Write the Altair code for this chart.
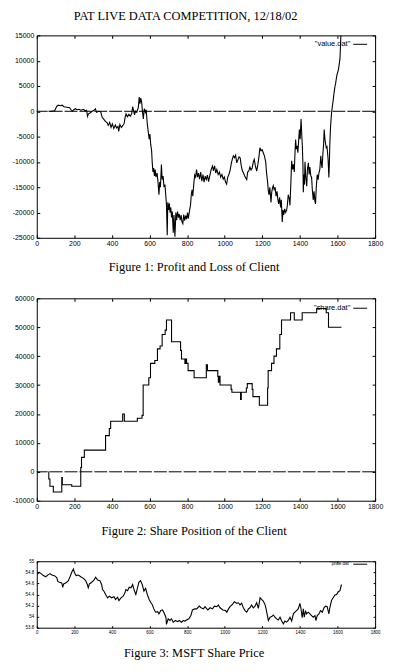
import altair as alt
import pandas as pd

# ---------------- data ----------------
pnl_x = [62, 80, 95, 100, 107, 115, 125, 135, 145, 160, 175, 180, 190, 197, 205, 215, 225, 235, 248, 258,
         265, 270, 275, 285, 295, 305, 312, 318, 330, 340, 348, 355, 365, 375, 380, 388, 395, 402, 410, 418,
         425, 432, 436, 442, 450, 458, 465, 470, 475, 482, 490, 497, 505, 510, 515, 520, 525, 532, 540, 545,
         549, 553, 558, 562, 567, 572, 578, 582, 588, 593, 598, 602, 606, 611, 614, 618, 622, 626, 630, 634,
         640, 645, 650, 654, 658, 663, 667, 672, 677, 682, 687, 690, 694, 697, 701, 705, 709, 713, 717, 721,
         726, 730, 735, 740, 744, 749, 754, 758, 763, 768, 772, 777, 782, 787, 792, 797, 802, 806, 812, 818,
         822, 826, 830, 835, 840, 845, 850, 855, 860, 866, 872, 878, 884, 890, 896, 902, 908, 914, 920, 928,
         935, 940, 946, 952, 958, 965, 972, 978, 985, 992, 998, 1004, 1010, 1016, 1022, 1028, 1034, 1040, 1046, 1052,
         1058, 1064, 1070, 1076, 1082, 1088, 1094, 1100, 1106, 1112, 1117, 1122, 1128, 1134, 1140, 1146, 1152, 1157, 1163, 1170,
         1176, 1182, 1187, 1193, 1199, 1205, 1211, 1218, 1222, 1228, 1232, 1236, 1240, 1246, 1250, 1254, 1258, 1263, 1268, 1273,
         1278, 1283, 1287, 1292, 1297, 1301, 1306, 1310, 1314, 1319, 1324, 1329, 1333, 1338, 1343, 1347, 1352, 1356, 1361, 1365,
         1370, 1374, 1377, 1381, 1385, 1389, 1393, 1397, 1401, 1406, 1410, 1413, 1416, 1418, 1421, 1424, 1427, 1431, 1436, 1440,
         1445, 1449, 1453, 1458, 1462, 1466, 1471, 1475, 1480, 1483, 1487, 1492, 1497, 1501, 1506, 1511, 1515, 1518, 1522, 1526,
         1529, 1533, 1536, 1540, 1544, 1547, 1550, 1554, 1557, 1559, 1563, 1568, 1572, 1577, 1581, 1586, 1590, 1595, 1599, 1604,
         1608, 1613, 1616, 1618]
pnl_y = [0, 0, 100, 500, 1000, 1200, 1100, 1200, 900, 800, 700, 400, 0, 300, 500, 300, 400, 200, 400, 100,
         200, -1000, -500, -300, 0, 200, 500, -200, 0, -100, -1200, -1500, -2000, -2300, -2800, -2200, -3200, -2500, -3400, -2700,
         -3300, -3000, -4000, -2600, -3200, -2800, -2400, -1200, -500, -1100, -600, -1000, -500, 900, 200, -700, 0, -200, 700, 2800,
         1500, 2600, 1800, 0, -1500, 500, -200, 300, -2500, -4000, -5500, -4500, -6500, -7800, -10000, -12000, -11200, -12800, -11500, -13000,
         -12200, -14000, -16500, -14000, -15000, -10500, -13500, -12800, -15000, -14500, -17000, -18500, -24500, -18000, -19500, -18200, -20000, -19000, -21000, -19800,
         -24000, -20500, -24800, -20000, -21500, -19800, -21000, -20300, -21500, -20500, -21800, -22200, -20400, -21600, -20600, -21300, -20000, -21200, -19800, -18500,
         -16500, -15500, -16800, -14500, -12600, -13000, -11500, -13000, -12200, -13400, -12000, -13800, -12500, -14000, -12800, -13500, -12600, -13900, -12800, -11500,
         -10800, -11800, -10800, -12200, -11500, -12500, -12000, -13000, -12500, -13400, -13000, -14000, -14400, -13000, -12500, -11800, -10500, -9500, -8800, -9200,
         -8700, -10200, -9600, -9000, -9200, -10800, -11800, -12200, -12800, -13200, -13500, -12000, -11800, -11000, -11600, -11200, -10000, -9500, -10800, -11800,
         -10600, -9000, -7200, -7800, -7600, -8200, -8800, -10000, -12000, -14000, -15800, -16500, -15000, -18000, -16000, -15200, -14700, -15500, -15000, -16800,
         -15800, -17500, -18300, -17000, -19000, -17500, -21900, -19500, -20500, -19300, -20000, -19600, -18600, -16500, -17200, -18600, -14000, -9800, -11500, -10500,
         -12000, -8000, -5600, -7500, -6800, -8200, -6000, -3600, -5500, -1550, -4800, -7000, -10500, -16000, -12500, -14500, -10000, -13000, -14800, -11500,
         -10200, -12500, -11000, -12800, -13000, -15500, -17500, -15800, -17800, -18300, -15000, -12500, -13500, -12200, -11500, -8800, -10500, -11200, -8500, -6500,
         -3600, -5500, -6300, -7200, -7000, -8200, -9500, -13100, -10000, -6500, -3000, -400, 800, 2200, 3500, 4800, 5500, 6800, 7500, 8100,
         9000, 10400, 13000, 15500]

pos_x = [62, 64, 70, 88, 133, 136, 186, 234, 238, 253, 366, 386, 393, 457, 466, 535, 560, 566, 596, 605,
         628, 642, 656, 667, 683, 690, 717, 765, 770, 788, 793, 797, 805, 837, 902, 908, 963, 966, 970, 975,
         1034, 1038, 1084, 1088, 1115, 1120, 1146, 1150, 1184, 1228, 1231, 1249, 1262, 1275, 1293, 1302, 1350, 1370, 1412, 1489,
         1540, 1552, 1621]
pos_y = [0, -2500, -5000, -7000, -2000, -4500, -5000, 1500, 5000, 7500, 12500, 15000, 17500, 20000, 17500, 18500, 19500, 30000, 32500, 37500,
         38500, 42500, 43500, 47500, 49000, 52500, 45000, 42000, 39000, 37500, 39000, 37500, 35000, 32500, 37000, 35000, 33000, 31000, 33000, 30000,
         28500, 27500, 25000, 27500, 29000, 30500, 28500, 26000, 23000, 29000, 35000, 37500, 40000, 42500, 47500, 52500, 55000, 52500, 55000, 56500,
         55000, 50000, 50000]

price_x = [4, 12, 23, 35, 48, 58, 71, 80, 94, 106, 112, 120, 133, 138, 143, 156, 168, 177, 186, 195,
           200, 209, 221, 234, 248, 260, 269, 274, 280, 292, 304, 313, 324, 336, 345, 350, 359, 366, 377, 386,
           398, 411, 419, 430, 437, 448, 460, 469, 474, 483, 492, 501, 510, 519, 527, 536, 543, 552, 561, 570,
           579, 588, 598, 607, 614, 623, 632, 643, 650, 660, 669, 678, 687, 690, 699, 708, 717, 726, 738, 749,
           758, 770, 779, 788, 797, 809, 820, 828, 841, 851, 864, 874, 887, 895, 910, 922, 935, 945, 958, 966,
           975, 990, 1004, 1011, 1020, 1028, 1041, 1051, 1064, 1073, 1081, 1090, 1099, 1108, 1117, 1126, 1134, 1143, 1152, 1161,
           1170, 1179, 1188, 1196, 1205, 1214, 1220, 1227, 1232, 1241, 1250, 1259, 1267, 1276, 1285, 1294, 1303, 1312, 1320, 1329,
           1338, 1347, 1356, 1365, 1373, 1382, 1391, 1400, 1405, 1412, 1418, 1423, 1430, 1435, 1444, 1453, 1462, 1471, 1480, 1485,
           1492, 1501, 1510, 1519, 1528, 1536, 1545, 1554, 1559, 1568, 1577, 1586, 1595, 1604, 1613, 1621]
price_y = [54.765, 54.80, 54.776, 54.741, 54.72, 54.75, 54.776, 54.75, 54.74, 54.706, 54.635, 54.62, 54.61, 54.53, 54.59, 54.61, 54.65, 54.72, 54.80, 54.86,
           54.80, 54.74, 54.75, 54.72, 54.69, 54.65, 54.58, 54.52, 54.59, 54.62, 54.66, 54.71, 54.66, 54.65, 54.58, 54.49, 54.45, 54.40, 54.34, 54.37,
           54.34, 54.36, 54.31, 54.35, 54.29, 54.34, 54.37, 54.43, 54.49, 54.47, 54.53, 54.52, 54.58, 54.47, 54.40, 54.52, 54.62, 54.65, 54.58, 54.46,
           54.51, 54.40, 54.31, 54.25, 54.22, 54.14, 54.08, 54.09, 54.05, 54.11, 54.12, 54.06, 53.99, 53.86, 53.96, 53.93, 53.96, 53.90, 53.93, 53.91,
           53.93, 53.90, 53.93, 53.92, 53.94, 53.96, 54.02, 54.12, 54.14, 54.14, 54.19, 54.16, 54.14, 54.18, 54.12, 54.16, 54.14, 54.19, 54.18, 54.21,
           54.16, 54.12, 54.11, 54.08, 54.14, 54.18, 54.22, 54.27, 54.24, 54.25, 54.21, 54.24, 54.16, 54.11, 54.08, 54.14, 54.16, 54.21, 54.16, 54.19,
           54.25, 54.15, 54.34, 54.31, 54.28, 54.22, 54.14, 54.02, 53.93, 53.99, 54.00, 54.03, 53.99, 53.96, 53.94, 53.99, 53.92, 53.87, 53.92, 53.90,
           53.93, 53.99, 53.92, 54.05, 54.08, 54.11, 54.14, 54.24, 54.16, 53.98, 54.14, 53.99, 54.11, 54.05, 54.08, 54.05, 54.02, 53.99, 54.02, 53.93,
           54.02, 54.05, 54.11, 54.08, 54.16, 54.19, 54.18, 54.05, 54.16, 54.29, 54.34, 54.39, 54.40, 54.45, 54.47, 54.58]

x_ticks = [0, 200, 400, 600, 800, 1000, 1200, 1400, 1600, 1800]
pnl_ticks = [-25000, -20000, -15000, -10000, -5000, 0, 5000, 10000, 15000]
pos_ticks = [-10000, 0, 10000, 20000, 30000, 40000, 50000, 60000]
price_ticks = [53.8, 54, 54.2, 54.4, 54.6, 54.8, 55]

main_title = "PAT LIVE DATA COMPETITION, 12/18/02"
captions = ["Figure 1: Profit and Loss of Client",
            "Figure 2: Share Position of the Client",
            "Figure 3: MSFT Share Price"]
legends = ['"value.dat"', '"share.dat"', '"price.dat"']

SANS = "Liberation Sans"
SERIF = "Liberation Serif"
W = 341


def panel(xs, ys, ydom, yticks, caption, legend, h, lab, leg_size, leg_y,
          interp, zero, cap_y, tick):
    df = pd.DataFrame({"x": xs, "y": ys})
    xsc = alt.Scale(domain=[0, 1800], nice=False, zero=False)
    ysc = alt.Scale(domain=ydom, nice=False, zero=False)
    common = dict(domain=False, grid=False, tickSize=tick, offset=-tick,
                  tickColor="black", labelColor="black", tickWidth=1)
    bottom = alt.Axis(orient="bottom", values=x_ticks, labelExpr="'' + datum.value",
                      labelFont=SANS, labelFontSize=lab, labelPadding=2,
                      title=caption, titleFont=SERIF, titleFontSize=12.5,
                      titleFontWeight="normal", titleColor="black",
                      titleX=158, titleY=cap_y, titleAlign="center",
                      titleBaseline="middle", labelFlush=False, **common)
    left = alt.Axis(orient="left", values=yticks, labelExpr="'' + datum.value",
                    labelFont=SANS, labelFontSize=lab, labelPadding=3,
                    title=None, **common)
    top = alt.Axis(orient="top", values=x_ticks, labels=False, title=None, **common)
    right = alt.Axis(orient="right", values=yticks, labels=False, title=None, **common)

    base = alt.Chart(df)
    main = base.mark_line(color="black", strokeWidth=1.1, clip=True,
                          interpolate=interp).encode(
        x=alt.X("x:Q", scale=xsc, axis=bottom),
        y=alt.Y("y:Q", scale=ysc, axis=left))
    mirror = base.mark_line(opacity=0, clip=True).encode(
        x=alt.X("x:Q", scale=xsc, axis=top),
        y=alt.Y("y:Q", scale=ysc, axis=right))
    ldf = pd.DataFrame({"t": [legend]})
    leg_t = alt.Chart(ldf).mark_text(align="right", baseline="middle", font=SANS,
                                     fontSize=leg_size, fill="black").encode(
        x=alt.value(316), y=alt.value(leg_y), text="t:N")
    leg_r = alt.Chart(ldf).mark_rule(color="black", strokeWidth=1).encode(
        x=alt.value(319), x2=alt.value(333), y=alt.value(leg_y))
    layers = []
    if zero:
        zdf = pd.DataFrame({"z": [0]})
        layers.append(alt.Chart(zdf).mark_rule(color="black", strokeWidth=1,
                                               strokeDash=[13, 2]).encode(
            y=alt.Y("z:Q", scale=ysc, axis=None)))
    layers += [main, mirror, leg_t, leg_r]
    return alt.layer(*layers).resolve_axis(x="independent", y="independent").properties(
        width=W, height=h)


c1 = panel(pnl_x, pnl_y, [-25000, 15000], pnl_ticks, captions[0], legends[0],
           204, 7, 7.5, 9, "linear", True, 32, 3)
c2 = panel(pos_x, pos_y, [-10000, 60000], pos_ticks, captions[1], legends[1],
           204, 7, 7.5, 10, "step-after", True, 33, 3)
c3 = panel(price_x, price_y, [53.8, 55.0], price_ticks, captions[2], legends[2],
           67, 4.5, 4.5, 3, "linear", False, 27, 2)

chart = alt.vconcat(c1, c2, c3, spacing=61, bounds="flush").properties(
    title=alt.TitleParams(main_title, font=SERIF, fontSize=12.5, fontWeight="normal",
                          color="black", anchor="middle", offset=8, dx=-12),
    padding={"left": 3, "top": 0, "right": 5, "bottom": 5},
    background="white",
).configure_view(stroke="black", strokeWidth=1)

chart.save("out.html", embed_options={"renderer": "svg", "actions": False})
